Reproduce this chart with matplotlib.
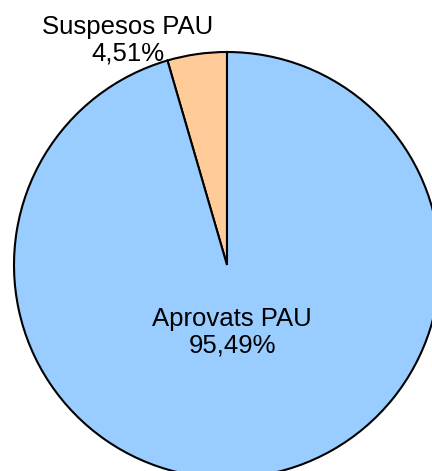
import numpy as np
import matplotlib.pyplot as plt

plt.rcParams['font.family'] = ['Liberation Sans', 'DejaVu Sans']

labels = ["Suspesos PAU", "Aprovats PAU"]
values = [4.51, 95.49]
value_text = ["4,51%", "95,49%"]
colors = ["#FFCC99", "#99CCFF"]

fig = plt.figure(figsize=(4.32, 4.71), dpi=100)
ax = fig.add_axes([0, 0, 1, 1])

r = 213.0
cx, cy = 227.0, 265.0
ax.pie(values, colors=colors, startangle=90, counterclock=True, radius=1,
       wedgeprops=dict(edgecolor="black", linewidth=1.5))
ax.set_xlim(-cx / r, (432 - cx) / r)
ax.set_ylim(-(471 - cy) / r, cy / r)
ax.set_aspect("equal")
ax.axis("off")

# label positions in pixel space -> data
label_pos = [(128, 40), (232, 332)]
for name, txt, (px, py) in zip(labels, value_text, label_pos):
    ax.text((px - cx) / r, (cy - py) / r, name + "\n" + txt,
            ha="center", va="center", fontsize=18.5, linespacing=1.15)

fig.savefig("out.png", dpi=100)
